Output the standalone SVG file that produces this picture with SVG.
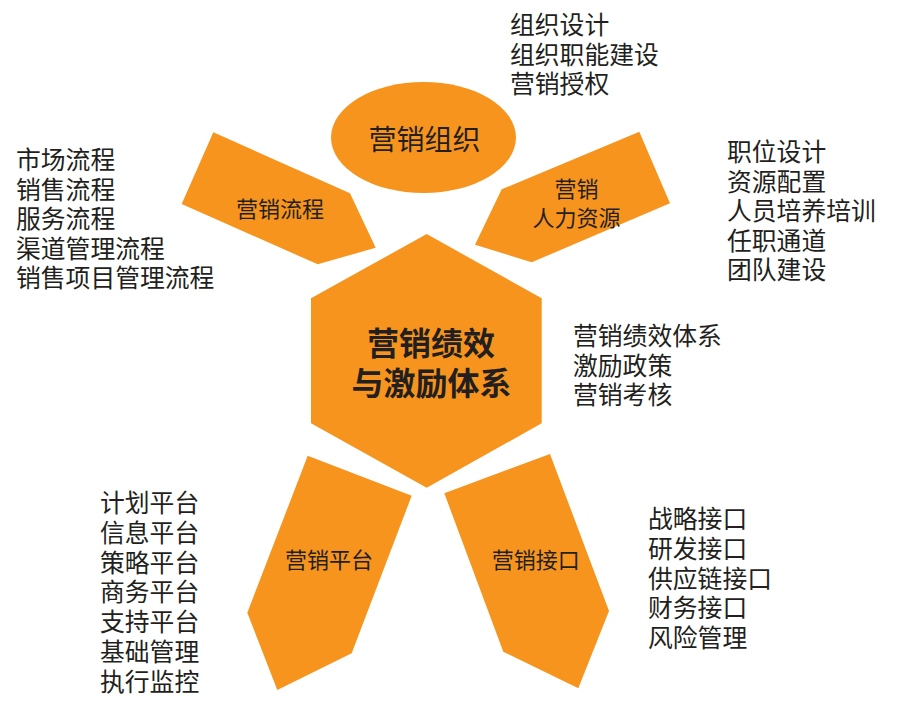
<svg xmlns="http://www.w3.org/2000/svg" width="912" height="715" viewBox="0 0 912 715">
<style>
.shape{fill:#F7941E;}
text{font-family:"Noto Sans CJK SC","Noto Sans",sans-serif;fill:#231F20;dominant-baseline:central;}
.lbl{font-size:22px;text-anchor:middle;}
.list{font-size:24.8px;}
.title{font-size:32px;font-weight:bold;text-anchor:middle;}
</style>
<rect width="912" height="715" fill="#FFFFFF"/>
<g id="connectors"></g>
<g id="node-org">
<ellipse class="shape" cx="423.5" cy="137.5" rx="92.5" ry="55.5"/>
<text class="lbl" x="424.5" y="138" style="font-size:28px">营销组织</text>
</g>
<g id="node-process">
<polygon class="shape" points="213.3,132.3 350,193.3 375.7,247.7 317.7,264.3 181.7,204"/>
<text class="lbl" x="280" y="207">营销流程</text>
</g>
<g id="node-hr">
<polygon class="shape" points="639.3,131.7 670,203.3 531.7,262.3 475,244.7 501.7,189.3"/>
<text class="lbl" x="576.5" y="187"><tspan x="576.5">营销</tspan><tspan x="576.5" dy="29">人力资源</tspan></text>
</g>
<g id="node-core">
<polygon class="shape" points="426.7,234 541.7,298.3 541.7,423.3 426.7,487.7 311,423.3 311,298.3"/>
<text class="title" x="431" y="341"><tspan x="431">营销绩效</tspan><tspan x="431.5" dy="40">与激励体系</tspan></text>
</g>
<g id="node-platform">
<polygon class="shape" points="307.7,455.7 411.7,495.7 351.7,653.3 277.3,690 247.3,612.7"/>
<text class="lbl" x="329" y="558">营销平台</text>
</g>
<g id="node-interface">
<polygon class="shape" points="550,454 609,611 578.3,688.3 503.3,651.7 444.3,493.3"/>
<text class="lbl" x="535.7" y="558">营销接口</text>
</g>
<g id="list-org">
<text class="list" x="510" y="23"><tspan x="510">组织设计</tspan><tspan x="510" dy="29.5">组织职能建设</tspan><tspan x="510" dy="29.5">营销授权</tspan></text>
</g>
<g id="list-process">
<text class="list" x="16" y="158"><tspan x="16">市场流程</tspan><tspan x="16" dy="29.5">销售流程</tspan><tspan x="16" dy="29.5">服务流程</tspan><tspan x="16" dy="29.5">渠道管理流程</tspan><tspan x="16" dy="29.5">销售项目管理流程</tspan></text>
</g>
<g id="list-hr">
<text class="list" x="727" y="150"><tspan x="727">职位设计</tspan><tspan x="727" dy="29.5">资源配置</tspan><tspan x="727" dy="29.5">人员培养培训</tspan><tspan x="727" dy="29.5">任职通道</tspan><tspan x="727" dy="29.5">团队建设</tspan></text>
</g>
<g id="list-core">
<text class="list" x="573" y="334"><tspan x="573">营销绩效体系</tspan><tspan x="573" dy="29.5">激励政策</tspan><tspan x="573" dy="29.5">营销考核</tspan></text>
</g>
<g id="list-platform">
<text class="list" x="100" y="501"><tspan x="100">计划平台</tspan><tspan x="100" dy="29.8">信息平台</tspan><tspan x="100" dy="29.8">策略平台</tspan><tspan x="100" dy="29.8">商务平台</tspan><tspan x="100" dy="29.8">支持平台</tspan><tspan x="100" dy="29.8">基础管理</tspan><tspan x="100" dy="29.8">执行监控</tspan></text>
</g>
<g id="list-interface">
<text class="list" x="648" y="517"><tspan x="648">战略接口</tspan><tspan x="648" dy="29.8">研发接口</tspan><tspan x="648" dy="29.8">供应链接口</tspan><tspan x="648" dy="29.8">财务接口</tspan><tspan x="648" dy="29.8">风险管理</tspan></text>
</g>
</svg>
